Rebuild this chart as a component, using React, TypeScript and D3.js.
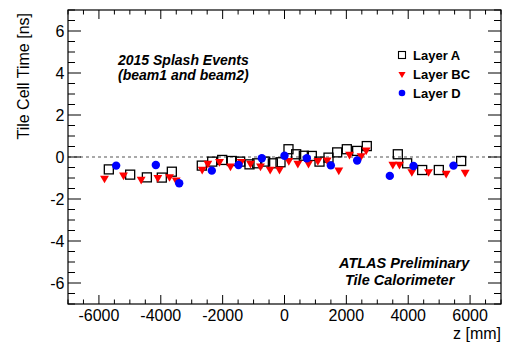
import React from "react";
import * as d3 from "d3";

// Layer A (open squares): z [mm], time [ns]
const layerAz = [-5680, -4990, -4450, -3967, -3643, -2674, -2338, -2015, -1704, -1433, -1132, -883, -625, -377, -129,
  129, 377, 625, 883, 1132, 1423, 1703, 2015, 2349, 2661, 3664, 3966, 4451, 4990, 5712];
const layerAt = [-0.59, -0.84, -0.97, -0.98, -0.7, -0.41, -0.22, -0.14, -0.19, -0.22, -0.35, -0.3, -0.22, -0.3, -0.25,
  0.37, 0.13, 0.06, 0.05, -0.22, -0.03, 0.22, 0.37, 0.29, 0.52, 0.13, -0.3, -0.62, -0.62, -0.19];

// Layer BC (red down triangles)
const layerBCz = [-5820, -5205, -4634, -4095, -3718, -3502, -2661, -2478, -2102, -1746, -1400, -1099, -776, -463, -162,
  140, 431, 776, 1078, 1380, 1756, 2102, 2478, 2640, 3503, 3718, 4117, 4656, 5228, 5842];
const layerBCt = [-1.01, -0.86, -1.06, -0.98, -0.94, -1.1, -0.59, -0.3, -0.22, -0.43, -0.22, -0.3, -0.43, -0.59, -0.59,
  -0.17, -0.3, -0.3, -0.17, -0.14, -0.62, 0.13, 0.06, 0.33, -0.35, -0.35, -0.7, -0.7, -0.78, -0.73];

// Layer D (blue circles)
const layerDz = [-5443, -4160, -3405, -2350, -1487, -734, 0, 722, 1498, 2349, 3405, 4171, 5464];
const layerDt = [-0.41, -0.38, -1.25, -0.65, -0.38, -0.06, 0.06, -0.06, -0.4, -0.17, -0.9, -0.43, -0.41];

const xTicks = [-6000, -4000, -2000, 0, 2000, 4000, 6000];
const yTicks = [-6, -4, -2, 0, 2, 4, 6];

const W = 505;
const H = 347;
const FONT = "'Liberation Sans', Arial, Helvetica, sans-serif";

export default function App() {
  const m = { left: 68, right: 501, top: 10, bottom: 304 };
  const x = d3.scaleLinear().domain([-7000, 7000]).range([m.left, m.right]);
  const y = d3.scaleLinear().domain([-7, 7]).range([m.bottom, m.top]);

  const xMinor = d3.range(-7000, 7001, 500);
  const yMinor = d3.range(-7, 7.01, 0.5);

  const tri = d3.symbol().type(d3.symbolTriangle).size(34)();
  const triSmall = d3.symbol().type(d3.symbolTriangle).size(22)();

  return (
    <svg width={W} height={H} style={{ position: "absolute", left: 0, top: 0, background: "#fff" }} fontFamily={FONT}>
      {/* zero line */}
      <line x1={m.left} x2={m.right} y1={y(0)} y2={y(0)} stroke="#555" strokeWidth={1.2} strokeDasharray="3,3" />

      {/* ticks */}
      {xMinor.map((v) => {
        const major = v % 2000 === 0;
        const len = major ? 9 : 4.5;
        return (
          <g key={"xt" + v}>
            <line x1={x(v)} x2={x(v)} y1={m.bottom} y2={m.bottom - len} stroke="#000" />
            <line x1={x(v)} x2={x(v)} y1={m.top} y2={m.top + len} stroke="#000" />
          </g>
        );
      })}
      {yMinor.map((v) => {
        const major = Math.abs(v % 2) < 1e-6;
        const len = major ? 13 : 7;
        return (
          <g key={"yt" + v}>
            <line x1={m.left} x2={m.left + len} y1={y(v)} y2={y(v)} stroke="#000" />
            <line x1={m.right} x2={m.right - len} y1={y(v)} y2={y(v)} stroke="#000" />
          </g>
        );
      })}

      {/* tick labels */}
      {xTicks.map((v) => (
        <text key={"xl" + v} x={x(v)} y={321} textAnchor="middle" fontSize={16}>
          {v}
        </text>
      ))}
      {yTicks.map((v) => (
        <text key={"yl" + v} x={64.5} y={y(v)} dy="0.36em" textAnchor="end" fontSize={16}>
          {v}
        </text>
      ))}

      {/* axis titles */}
      <text x={m.right} y={339} textAnchor="end" fontSize={16}>
        z [mm]
      </text>
      <text transform="translate(28.5,13) rotate(-90)" textAnchor="end" fontSize={16}>
        Tile Cell Time [ns]
      </text>

      {/* Layer A */}
      {layerAz.map((z, i) => (
        <rect key={"a" + i} x={x(z) - 4.5} y={y(layerAt[i]) - 4.5} width={9} height={9} fill="none" stroke="#000" strokeWidth={1.3} />
      ))}
      {/* Layer BC */}
      {layerBCz.map((z, i) => (
        <path key={"bc" + i} d={tri} transform={`translate(${x(z)},${y(layerBCt[i])}) rotate(180)`} fill="#ff0000" />
      ))}
      {/* Layer D */}
      {layerDz.map((z, i) => (
        <circle key={"d" + i} cx={x(z)} cy={y(layerDt[i])} r={4.2} fill="#0000ff" />
      ))}

      {/* frame */}
      <rect x={m.left} y={m.top} width={m.right - m.left} height={m.bottom - m.top} fill="none" stroke="#000" strokeWidth={1.2} />

      {/* annotations */}
      <text x={118} y={65} fontSize={14} fontWeight="bold" fontStyle="italic">
        2015 Splash Events
      </text>
      <text x={118} y={80} fontSize={14} fontWeight="bold" fontStyle="italic">
        (beam1 and beam2)
      </text>
      <text x={339} y={268} fontSize={14.5} fontWeight="bold" fontStyle="italic">
        ATLAS Preliminary
      </text>
      <text x={345} y={285} fontSize={14.5} fontWeight="bold" fontStyle="italic">
        Tile Calorimeter
      </text>

      {/* legend */}
      <rect x={398.5} y={51.5} width={7} height={7} fill="none" stroke="#000" strokeWidth={1.1} />
      <path d={triSmall} transform="translate(402,74) rotate(180)" fill="#ff0000" />
      <circle cx={402} cy={93} r={3.3} fill="#0000ff" />
      <text x={413} y={60} fontSize={13} fontWeight="bold">Layer A</text>
      <text x={413} y={79} fontSize={13} fontWeight="bold">Layer BC</text>
      <text x={413} y={98} fontSize={13} fontWeight="bold">Layer D</text>
    </svg>
  );
}
